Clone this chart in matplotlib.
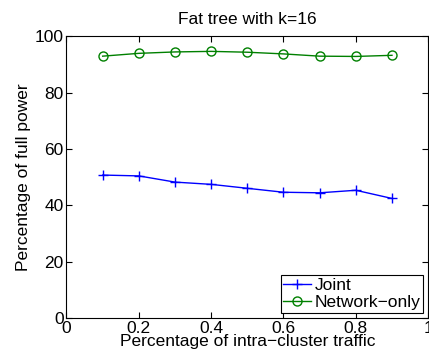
import matplotlib
matplotlib.use("Agg")
import matplotlib.pyplot as plt

# data
traffic = [0.1, 0.2, 0.3, 0.4, 0.5, 0.6, 0.7, 0.8, 0.9]
joint = [50.7, 50.4, 48.2, 47.4, 46.0, 44.6, 44.4, 45.3, 42.4]
network_only = [92.9, 93.9, 94.4, 94.6, 94.3, 93.7, 92.9, 92.8, 93.2]
x_ticks = [0, 0.2, 0.4, 0.6, 0.8, 1]
x_ticklabels = ["0", "0.2", "0.4", "0.6", "0.8", "1"]
y_ticks = [0, 20, 40, 60, 80, 100]

plt.rcParams["font.family"] = ["Liberation Sans", "DejaVu Sans"]

fig = plt.figure(figsize=(4.29, 3.58), dpi=100)
ax = fig.add_axes([0.155, 0.112, 0.843, 0.787])

ax.plot(traffic, joint, color="#0000ff", marker="+", markersize=7,
        markeredgewidth=1, linewidth=1, label="Joint")
ax.plot(traffic, network_only, color="#008000", marker="o", markersize=6.5,
        markerfacecolor="none", markeredgewidth=1, linewidth=1,
        label="Network\u2212only")

ax.set_xlim(0, 1)
ax.set_ylim(0, 100)
ax.set_xticks(x_ticks)
ax.set_xticklabels(x_ticklabels)
ax.set_yticks(y_ticks)
ax.tick_params(direction="in", top=True, right=True, labelsize=12.5, length=4,
               pad=2)

ax.set_title("Fat tree with k=16", fontsize=12.5, pad=9)
ax.set_xlabel("Percentage of intra\u2212cluster traffic", fontsize=12.5, labelpad=-1)
ax.set_ylabel("Percentage of full power", fontsize=12.5, labelpad=3)

leg = ax.legend(loc="lower right", fontsize=12.5, fancybox=False, framealpha=1,
                edgecolor="black", borderpad=0.15, labelspacing=0.1,
                handlelength=1.6, handletextpad=0.2, borderaxespad=0.3)
leg.get_frame().set_linewidth(0.8)

fig.savefig("out.png", dpi=100)
